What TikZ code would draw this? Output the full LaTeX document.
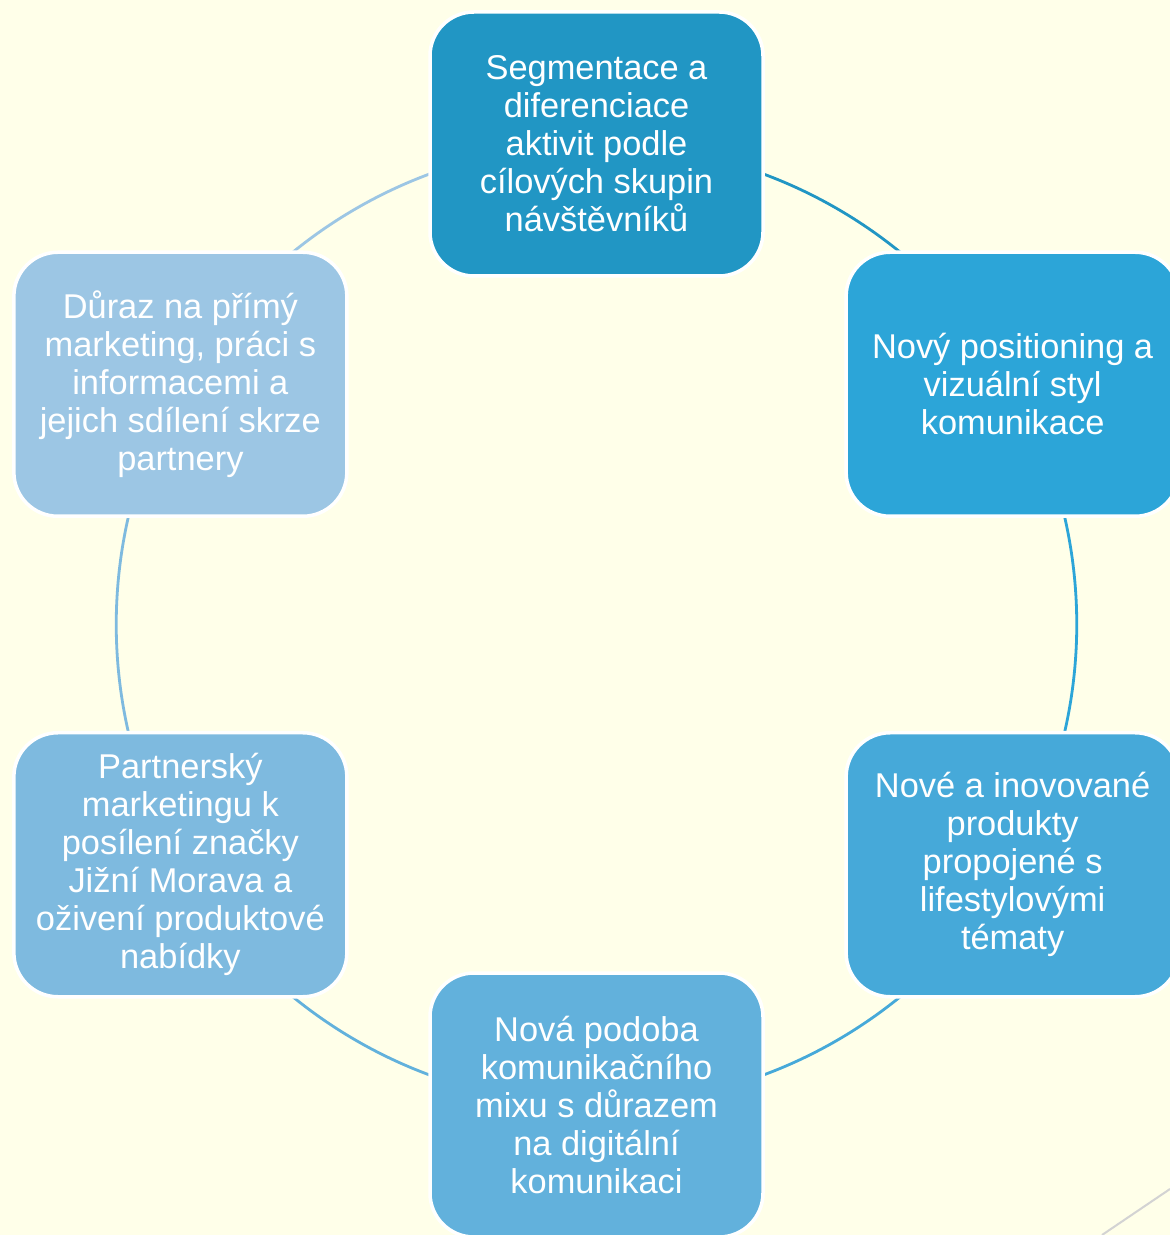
\documentclass[tikz,border=0pt]{standalone}
\usepackage{fontspec}
\setmainfont{Liberation Sans}
\usepackage{xcolor}
\definecolor{bgcream}{HTML}{FFFFE9}
\definecolor{segblue}{HTML}{2196C4}
\definecolor{posblue}{HTML}{2CA5D8}
\definecolor{prodblue}{HTML}{46A9D9}
\definecolor{mixblue}{HTML}{62B1DC}
\definecolor{partblue}{HTML}{7EBADF}
\definecolor{dirblue}{HTML}{9CC6E4}
\definecolor{slidegrey}{HTML}{D3D3D3}
\usetikzlibrary{backgrounds}

\begin{document}
\begin{tikzpicture}[box/.style={draw=white,line width=1.75pt,rounded corners=22pt,minimum width=166.5pt,minimum height=132pt,align=center,text=white,font=\fontsize{17.2}{19}\selectfont},ring/.style={line width=1.4pt,bend left=30,looseness=0.9126}]
\coordinate (sw) at (-298.25pt,-305.25pt);
\coordinate (ne) at (286.75pt,312.25pt);
\useasboundingbox (sw) rectangle (ne);
\node[box,fill=segblue] (seg) at (90:240.25pt) {Segmentace a\\diferenciace\\aktivit podle\\cílových skupin\\návštěvníků};
\node[box,fill=posblue] (pos) at (30:240.25pt) {Nový positioning a\\vizuální styl\\komunikace};
\node[box,fill=prodblue] (prod) at (-30:240.25pt) {Nové a inovované\\produkty\\propojené s\\lifestylovými\\tématy};
\node[box,fill=mixblue] (mix) at (-90:240.25pt) {Nová podoba\\komunikačního\\mixu s důrazem\\na digitální\\komunikaci};
\node[box,fill=partblue] (part) at (-150:240.25pt) {Partnerský\\marketingu k\\posílení značky\\Jižní Morava a\\oživení produktové\\nabídky};
\node[box,fill=dirblue] (dir) at (150:240.25pt) {Důraz na přímý\\marketing, práci s\\informacemi a\\jejich sdílení skrze\\partnery};
\begin{scope}[on background layer]
\fill[bgcream] (sw) rectangle (ne);
\draw[slidegrey,line width=1pt] (252.75pt,-305.25pt)--(286.75pt,-282.25pt);
\draw[ring,segblue] (seg.center) to (pos.center);\draw[ring,posblue] (pos.center) to (prod.center);\draw[ring,prodblue] (prod.center) to (mix.center);\draw[ring,mixblue] (mix.center) to (part.center);\draw[ring,partblue] (part.center) to (dir.center);\draw[ring,dirblue] (dir.center) to (seg.center);
\end{scope}
\end{tikzpicture}
\end{document}
